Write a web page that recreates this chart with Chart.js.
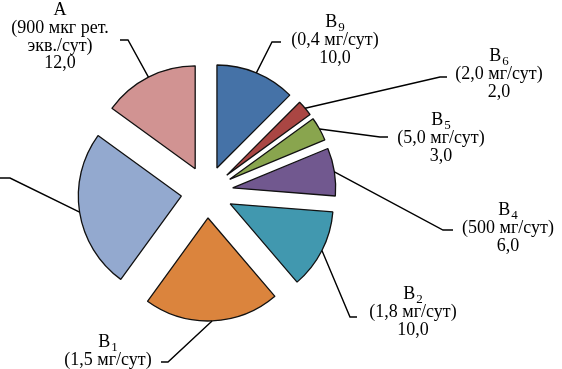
<!DOCTYPE html>
<html>
<head>
<meta charset="utf-8">
<script src="https://cdn.jsdelivr.net/npm/chart.js@4"></script>
<style>
  html, body { margin: 0; padding: 0; background: #fff; }
  #vitChart { display: block; }
</style>
</head>
<body>
<canvas id="vitChart" width="562" height="369"></canvas>
<script>
// slice data, clockwise from 12 o'clock
const names = ['B', 'B', 'B', 'B', 'B', 'B', 'C', 'A'];
const subs = ['9', '6', '5', '4', '2', '1', '', ''];
const doses = [
    ['(0,4 мг/сут)'],
    ['(2,0 мг/сут)'],
    ['(5,0 мг/сут)'],
    ['(500 мг/сут)'],
    ['(1,8 мг/сут)'],
    ['(1,5 мг/сут)'],
    [],
    ['(900 мкг рет.', 'экв./сут)']
];
const values = [10, 2, 3, 6, 10, 17, 20, 12];
const colors = ['#4572A7', '#AA4643', '#89A54E', '#71588F', '#4198AF', '#DB843D', '#93A9CF', '#D19392'];

// where each label sits: text centre x, first line y, leader elbow, end of the short horizontal tick
const labelLayout = [
    { cx: 335, y: 22.5, elbow: [272, 42], end: 281 },
    { cx: 499, y: 56.5, elbow: [440, 77], end: 447 },
    { cx: 441, y: 120.5, elbow: [380, 137], end: 388 },
    { cx: 508, y: 210.5, elbow: [443, 230], end: 453 },
    { cx: 413, y: 294.5, elbow: [350, 317], end: 357 },
    { cx: 108, y: 342.5, elbow: [168, 362], end: 161 },
    { cx: -60, y: 160, elbow: [10, 178], end: 0 },
    { cx: 60, y: 10.5, elbow: [128, 40], end: 120 }
];

const EXPLODE = 26;   // px each slice is pulled out from the centre
const LINE_H = 17.7;
const FONT = '18px "Liberation Serif", "Times New Roman", serif';
const SUB_FONT = '13px "Liberation Serif", "Times New Roman", serif';

// pull every slice out along its middle angle (keeps its radius, unlike `offset`)
const Arc = Chart.registry.getElement('arc');
const baseDraw = Arc.prototype.draw;
Arc.prototype.draw = function (ctx) {
    const mid = (this.startAngle + this.endAngle) / 2;
    ctx.save();
    ctx.translate(Math.cos(mid) * EXPLODE, Math.sin(mid) * EXPLODE);
    baseDraw.call(this, ctx);
    ctx.restore();
};

function fmt(v) {
    return v.toFixed(1).replace('.', ',');
}

const calloutPlugin = {
    id: 'callouts',
    afterDraw(chart) {
        const ctx = chart.ctx;
        const meta = chart.getDatasetMeta(0);
        ctx.save();
        meta.data.forEach((el, i) => {
            const p = el.getProps(['x', 'y', 'startAngle', 'endAngle', 'outerRadius'], true);
            const mid = (p.startAngle + p.endAngle) / 2;
            const r = p.outerRadius + EXPLODE;
            const sx = p.x + Math.cos(mid) * r;
            const sy = p.y + Math.sin(mid) * r;
            const lay = labelLayout[i];

            // leader line
            ctx.strokeStyle = '#000';
            ctx.lineWidth = 1.4;
            ctx.beginPath();
            ctx.moveTo(sx, sy);
            ctx.lineTo(lay.elbow[0], lay.elbow[1]);
            ctx.lineTo(lay.end, lay.elbow[1]);
            ctx.stroke();

            // text block
            ctx.fillStyle = '#000';
            ctx.textBaseline = 'middle';
            ctx.textAlign = 'left';
            ctx.font = FONT;
            const nameW = ctx.measureText(names[i]).width;
            ctx.font = SUB_FONT;
            const subW = subs[i] ? ctx.measureText(subs[i]).width + 1 : 0;
            let x0 = lay.cx - (nameW + subW) / 2;
            ctx.font = FONT;
            ctx.fillText(names[i], x0, lay.y);
            if (subs[i]) {
                ctx.font = SUB_FONT;
                ctx.fillText(subs[i], x0 + nameW + 1, lay.y + 5);
            }
            ctx.font = FONT;
            ctx.textAlign = 'center';
            const lines = doses[i].concat([fmt(values[i])]);
            lines.forEach((t, k) => {
                ctx.fillText(t, lay.cx, lay.y + LINE_H * (k + 1));
            });
        });
        ctx.restore();
    }
};

const ctx = document.getElementById('vitChart').getContext('2d');
const vitChart = new Chart(ctx, {
    type: 'pie',
    data: {
        labels: names.map((n, i) => n + subs[i]),
        datasets: [{
            data: values,
            backgroundColor: colors,
            borderColor: '#111',
            borderWidth: 1.3
        }]
    },
    options: {
        responsive: false,
        animation: false,
        radius: 103,
        layout: {
            padding: { left: 0, right: 148, top: 15, bottom: 0 }
        },
        plugins: {
            legend: { display: false },
            tooltip: { enabled: false }
        }
    },
    plugins: [calloutPlugin]
});
</script>
</body>
</html>
